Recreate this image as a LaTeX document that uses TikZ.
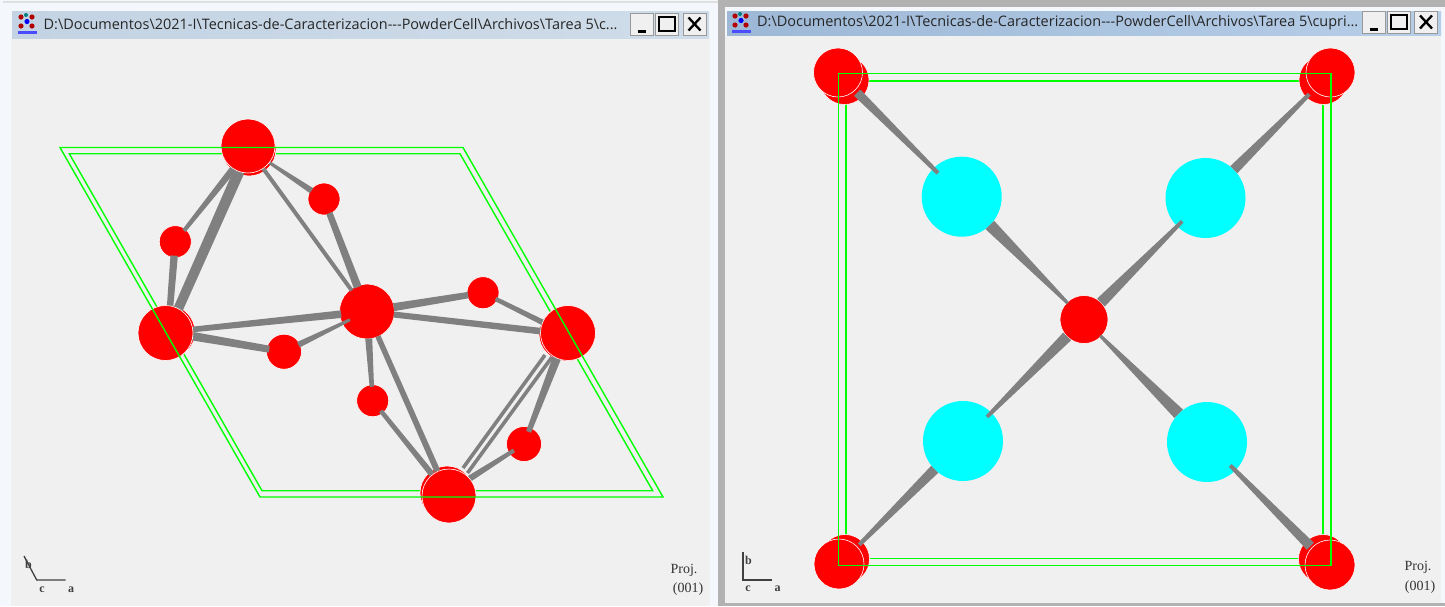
\documentclass[tikz,border=0pt]{standalone}
\usepackage{fontspec}
\setmainfont{Liberation Serif}
\newfontfamily\titlefont{Open Sans}
\usetikzlibrary{calc}
\definecolor{clientbg}{HTML}{F0F0F0}
\definecolor{framebg}{HTML}{F4F7FB}
\definecolor{graybg}{HTML}{B2B2B2}
\definecolor{bondgray}{HTML}{808080}
\definecolor{cellgreen}{HTML}{00FF00}
\definecolor{atomcy}{HTML}{00FFFF}
\definecolor{titleLa}{HTML}{C3D3E3}
\definecolor{titleLb}{HTML}{CFDCE9}
\definecolor{titleRa}{HTML}{9DB8D6}
\definecolor{titleRb}{HTML}{B7CEE8}
\tikzset{
  atomred/.style={circle,fill=red,draw=white,line width=0.6pt,inner sep=0pt,outer sep=0pt,minimum size=#1},
  atomcyan/.style={circle,fill=atomcy,draw=none,inner sep=0pt,outer sep=0pt,minimum size=#1},
  bondfill/.style={fill=bondgray,draw=none},
  bondline/.style={draw=bondgray,line width=3.6pt},
  cell/.style={draw=cellgreen,line width=1.4pt},
  axisline/.style={draw=black!75,line width=1.3pt},
  serif/.style={inner sep=0pt,font=\fontsize{14}{15}\selectfont,text=black!80},
  axlabel/.style={inner sep=0pt,font=\bfseries\fontsize{12}{13}\selectfont,text=black!75},
  titletext/.style={anchor=west,inner sep=0pt,text=black!85,font=\titlefont\fontsize{14.45}{16}\selectfont},
  winbtn/.style={rectangle,draw=black!40,fill=clientbg,line width=0.8pt,inner sep=0pt,outer sep=0pt,minimum width=23pt,minimum height=22pt},
  glyph/.style={draw=black,line width=2.3pt},
}
% tapered bond between two atoms: starts #3 pt from the centre of #1, ends #4 pt from the centre of #2, half widths #5 and #6 (pt)
\newcommand{\bondtrim}[6]{%
  \coordinate (p1) at ($(#1.center)!#3pt!(#2.center)$);
  \coordinate (p2) at ($(#2.center)!#4pt!(#1.center)$);
  \fill[bondfill] ($(p1)!#5pt!90:(p2)$) -- ($(p1)!#5pt!-90:(p2)$) -- ($(p2)!#6pt!90:(p1)$) -- ($(p2)!#6pt!-90:(p1)$) -- cycle;
}
\newcommand{\appicon}[2]{%
  \begin{scope}[shift={(#1,#2)}]
    \fill[red!70!black] (-6,-7) circle (2.6);
    \fill[red!70!black] (5,-7) circle (2.6);
    \fill[red!70!black] (-6,2) circle (2.6);
    \fill[red!70!black] (5,2) circle (2.6);
    \fill[teal] (-1,-9) circle (2);
    \fill[blue] (0,-2.5) circle (2.6);
    \fill[blue!70] (-9,7) rectangle (10,9.5);
  \end{scope}}
\newcommand{\winbuttons}[5]{% tag x1 x2 x3 ycentre
  \node[winbtn] (min#1) at (#2,#5) {};
  \node[winbtn] (max#1) at (#3,#5) {};
  \node[winbtn] (cls#1) at (#4,#5) {};
  \draw[glyph] ($(min#1.center)+(-4,7.5)$) -- ($(min#1.center)+(4,7.5)$);
  \draw[draw=black,line width=1.5pt] ($(max#1.center)+(-8,-7)$) rectangle ($(max#1.center)+(8,7)$);
  \draw[glyph] ($(cls#1.center)+(-6,-6.5)$) -- ($(cls#1.center)+(6,6.5)$);
  \draw[glyph] ($(cls#1.center)+(-6,6.5)$) -- ($(cls#1.center)+(6,-6.5)$);
}
\begin{document}
\begin{tikzpicture}[x=1pt,y=-1pt]
\useasboundingbox (0,0) rectangle (1445,606);
% ---- window backgrounds
\fill[framebg] (0,0) rectangle (718,606);
\fill[black!12] (3,1) rectangle (718,3);
\fill[graybg] (718,0) rectangle (1445,606);
\fill[framebg] (725,7) rectangle (1445,603);
\fill[clientbg] (11,38) rectangle (710,606);
\fill[clientbg] (725,35) rectangle (1441,603);
\shade[left color=titleLa,right color=titleLb] (12,11) rectangle (709,38);
\shade[left color=titleRa,right color=titleRb] (727,11) rectangle (1441,35);
\appicon{27}{24}
\appicon{741}{23}
\node[titletext] (titleL) at (43.5,24.5) {D:\textbackslash Documentos\textbackslash 2021-I\textbackslash Tecnicas-de-Caracterizacion---PowderCell\textbackslash Archivos\textbackslash Tarea 5\textbackslash c...};
\node[titletext] (titleR) at (757,22.5) {D:\textbackslash Documentos\textbackslash 2021-I\textbackslash Tecnicas-de-Caracterizacion---PowderCell\textbackslash Archivos\textbackslash Tarea 5\textbackslash cupri...};
\winbuttons{L}{641.5}{667}{694.5}{24}
\winbuttons{R}{1373.5}{1399}{1426}{22}

% ---- left panel: back cell edge
\draw[cell] (69.3,153.7) -- (460,153.7) -- (652.7,490.7) -- (262,490.7) -- cycle;
% back atoms
\node[atomred=54pt] (Ab) at (249,149) {};
\node[atomred=54pt] (Bb) at (168,332) {};
\node[atomred=54pt] (Db) at (566,334) {};
\node[atomred=54pt] (Eb) at (447,493) {};
\node[atomred=55pt] (C) at (367,311.5) {};
\node[atomred=32pt] (s1) at (324,199) {};
\node[atomred=32pt] (s2) at (175.3,241.7) {};
\node[atomred=35pt] (s3) at (284,351.7) {};
\node[atomred=32pt] (s4) at (483,292.7) {};
\node[atomred=32pt] (s5) at (372.7,400.7) {};
\node[atomred=35pt] (s6) at (524,444) {};
\coordinate (de1a) at (463,468);
\coordinate (de1b) at (545,355);
\coordinate (de2a) at (467.5,473);
\coordinate (de2b) at (552,357);
% bonds
\bondtrim{Ab}{Bb}{24}{24}{5.5}{4.8}
\bondtrim{Ab}{s2}{24}{14}{3.5}{2}
\bondtrim{s2}{Bb}{14}{24}{3.7}{3.2}
\bondtrim{Ab}{s1}{24}{15}{1.5}{3}
\bondtrim{Ab}{C}{24}{26}{2}{2}
\bondtrim{s1}{C}{15}{26}{3.2}{4}
\bondtrim{Bb}{C}{25}{26}{2.8}{3.8}
\bondtrim{Bb}{s3}{25}{15}{4.3}{3.5}
\bondtrim{s3}{C}{16}{19}{3}{1.5}
\bondtrim{C}{s4}{27}{15}{4}{3.2}
\bondtrim{C}{Db}{27}{25}{3}{3.3}
\bondtrim{s4}{Db}{14}{24}{2.2}{2.8}
\bondtrim{C}{s5}{27}{14}{3.5}{2.2}
\bondtrim{s5}{Eb}{13}{24}{2.2}{3}
\bondtrim{C}{Eb}{27}{24}{2.7}{3}
\draw[bondline] (de1a) -- (de1b);
\draw[bondline] (de2a) -- (de2b);
\bondtrim{Db}{s6}{24}{13}{4.3}{2.6}
\bondtrim{s6}{Eb}{12}{24}{2}{3.2}
% front atoms
\node[atomred=54pt] (A) at (248,146) {};
\node[atomred=55pt] (B) at (165.5,333) {};
\node[atomred=55pt] (D) at (568,333) {};
\node[atomred=54pt] (E) at (449,496) {};
% front cell edge
\draw[cell] (60,147.5) -- (463,147.5) -- (663,497) -- (260,497) -- cycle;

% ---- left axes and labels
\coordinate (oL) at (36.7,580);
\coordinate (aL) at (65.7,580);
\coordinate (bL) at (24,556);
\draw[axisline] (bL) -- (oL) -- (aL);
\node[axlabel] (lbL) at (28.5,564) {b};
\node[axlabel] (lcL) at (42,590) {c};
\node[axlabel] (laL) at (71,590) {a};
\node[serif] (pL) at (684,570) {Proj.};
\node[serif] (nL) at (688,589) {(001)};

% ---- right panel
\draw[cell] (846,81) -- (1323,81) -- (1323,558.5) -- (846,558.5) -- cycle;
\node[atomred=49pt] (TLb) at (844.5,80) {};
\node[atomred=49pt] (TRb) at (1323.5,80) {};
\node[atomred=49pt] (BLb) at (845,559) {};
\node[atomred=49pt] (BRb) at (1323,559) {};
\node[atomcyan=80pt] (c1) at (961.7,196.7) {};
\node[atomcyan=80pt] (c2) at (1205.5,198) {};
\node[atomcyan=80pt] (c3) at (963,441) {};
\node[atomcyan=80pt] (c4) at (1207,442) {};
\node[atomred=48pt] (M) at (1084,319.5) {};
% bonds with tapers
\bondtrim{TLb}{c1}{18}{33.5}{4.5}{2}
\bondtrim{TRb}{c2}{20}{40}{2}{5}
\bondtrim{BLb}{c3}{20}{40}{2}{5}
\bondtrim{BRb}{c4}{18}{33}{5}{2}
\bondtrim{c1}{M}{40}{23}{6}{1.6}
\bondtrim{c2}{M}{33}{24}{1.8}{5.5}
\bondtrim{c3}{M}{34}{24}{1.8}{5.5}
\bondtrim{c4}{M}{40}{23}{6}{1.6}
% front corner atoms
\node[atomred=49pt] (TL) at (838,72.5) {};
\node[atomred=49pt] (TR) at (1330.5,72.5) {};
\node[atomred=50pt] (BL) at (839,564) {};
\node[atomred=50pt] (BR) at (1330,565) {};
\draw[cell] (838.7,73.7) -- (1331,73.7) -- (1331,565.7) -- (838.7,565.7) -- cycle;

% right axes and labels
\coordinate (oR) at (743,580);
\coordinate (aR) at (771.7,580);
\coordinate (bR) at (743,551.7);
\draw[axisline] (bR) -- (oR) -- (aR);
\node[axlabel] (lbR) at (748.5,560) {b};
\node[axlabel] (lcR) at (748,589) {c};
\node[axlabel] (laR) at (777.5,589) {a};
\node[serif] (pR) at (1418,567) {Proj.};
\node[serif] (nR) at (1420,587) {(001)};
\end{tikzpicture}
\end{document}
